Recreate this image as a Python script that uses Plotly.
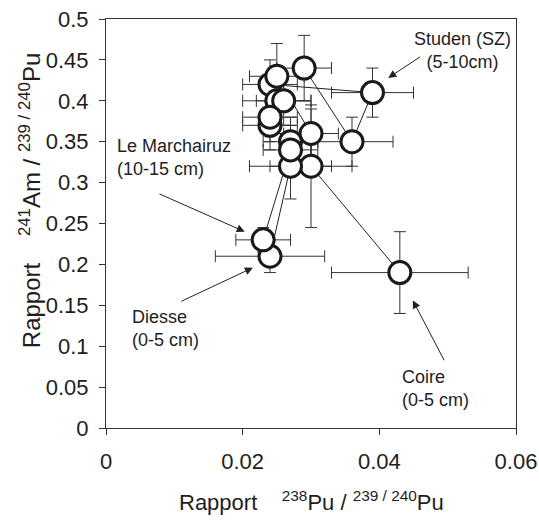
import plotly.graph_objects as go

# ---- data ----
studen_x = [0.024, 0.039, 0.036, 0.029]
studen_y = [0.42, 0.41, 0.35, 0.44]
studen_ex = [0.004, 0.006, 0.006, 0.004]
studen_ey = [0.03, 0.03, 0.03, 0.04]

coire_x = [0.025, 0.030, 0.030, 0.043]
coire_y = [0.43, 0.36, 0.32, 0.19]
coire_ex = [0.004, 0.004, 0.006, 0.010]
coire_ey = [0.04, 0.03, 0.075, 0.05]

diesse_x = [0.024, 0.027, 0.027, 0.024]
diesse_y = [0.37, 0.35, 0.32, 0.21]
diesse_ex = [0.004, 0.004, 0.006, 0.008]
diesse_ey = [0.03, 0.03, 0.04, 0.02]

march_x = [0.025, 0.026, 0.024, 0.027, 0.023]
march_y = [0.40, 0.40, 0.38, 0.34, 0.23]
march_ex = [0.005, 0.004, 0.004, 0.004, 0.004]
march_ey = [0.04, 0.03, 0.03, 0.03, 0.015]

x_ticks = [0, 0.02, 0.04, 0.06]
x_ticklabels = ["0", "0.02", "0.04", "0.06"]
y_ticks = [0, 0.05, 0.1, 0.15, 0.2, 0.25, 0.3, 0.35, 0.4, 0.45, 0.5]
y_ticklabels = ["0", "0.05", "0.1", "0.15", "0.2", "0.25", "0.3", "0.35", "0.4", "0.45", "0.5"]

series = [
    (studen_x, studen_y, studen_ex, studen_ey),
    (coire_x, coire_y, coire_ex, coire_ey),
    (diesse_x, diesse_y, diesse_ex, diesse_ey),
    (march_x, march_y, march_ex, march_ey),
]

FONT = "Liberation Sans, Arial, sans-serif"
INK = "#1e1e1e"

fig = go.Figure()
# lines + error bars first
for xs, ys, exs, eys in series:
    fig.add_trace(go.Scatter(
        x=xs, y=ys, mode="lines",
        line=dict(color="#222", width=1),
        error_x=dict(type="data", array=exs, color="#333", thickness=1, width=6),
        error_y=dict(type="data", array=eys, color="#333", thickness=1, width=6),
        showlegend=False, hoverinfo="skip"))
# markers on top
for xs, ys, exs, eys in series:
    fig.add_trace(go.Scatter(
        x=xs, y=ys, mode="markers",
        marker=dict(size=22, color="white", line=dict(color="#1a1a1a", width=3)),
        showlegend=False))

ann_font = dict(family=FONT, size=18, color=INK)
texts = [
    dict(x=0.0522, y=0.461, text="Studen (SZ)<br>(5-10cm)", align="center", xanchor="center"),
    dict(x=0.0013, y=0.331, text="Le Marchairuz<br>(10-15 cm)", align="left", xanchor="left"),
    dict(x=0.0035, y=0.122, text="Diesse<br>(0-5 cm)", align="left", xanchor="left"),
    dict(x=0.0430, y=0.048, text="Coire<br>(0-5 cm)", align="left", xanchor="left"),
]
for t in texts:
    fig.add_annotation(x=t["x"], y=t["y"], text=t["text"], align=t["align"],
                       xanchor=t["xanchor"], yanchor="middle", showarrow=False,
                       font=ann_font)

arrows = [
    ((0.0462, 0.455), (0.0413, 0.428)),
    ((0.0076, 0.287), (0.0203, 0.240)),
    ((0.0108, 0.154), (0.0215, 0.196)),
    ((0.0496, 0.081), (0.0449, 0.156)),
]
for (tx, ty), (hx, hy) in arrows:
    fig.add_annotation(x=hx, y=hy, ax=tx, ay=ty, xref="x", yref="y",
                       axref="x", ayref="y", text="", showarrow=True,
                       arrowhead=2, arrowsize=1.6, arrowwidth=1,
                       arrowcolor="#222")

# axis titles
fig.add_annotation(x=0.5, y=-0.178, xref="paper", yref="paper",
                   text="Rapport &nbsp;&nbsp;&nbsp;<sup>238</sup>Pu / <sup>239 / 240</sup>Pu",
                   showarrow=False, xanchor="center", yanchor="middle",
                   font=dict(family=FONT, size=22, color=INK))
fig.add_annotation(x=-0.185, y=0.555, xref="paper", yref="paper", textangle=-90,
                   text="Rapport &nbsp;&nbsp;&nbsp;<sup>241</sup>Am / <sup>239 / 240</sup>Pu",
                   showarrow=False, xanchor="center", yanchor="middle",
                   font=dict(family=FONT, size=24, color=INK))

fig.update_xaxes(range=[0, 0.06], tickvals=x_ticks, ticktext=x_ticklabels,
                 showgrid=False, zeroline=False, showline=True, linecolor="#333",
                 linewidth=1, mirror=True, ticks="outside", ticklen=6,
                 tickcolor="#333", ticklabelstandoff=8, automargin=False,
                 tickfont=dict(family=FONT, size=22, color=INK))
fig.update_yaxes(range=[0, 0.5], tickvals=y_ticks, ticktext=y_ticklabels,
                 showgrid=False, zeroline=False, showline=True, linecolor="#333",
                 linewidth=1, mirror=True, ticks="outside", ticklen=6,
                 tickcolor="#333", ticklabelstandoff=6, automargin=False,
                 tickfont=dict(family=FONT, size=22, color=INK))

fig.update_layout(width=539, height=524, plot_bgcolor="white", paper_bgcolor="white",
                  margin=dict(l=106, r=23, t=19, b=96))

fig.write_html("out.html")
